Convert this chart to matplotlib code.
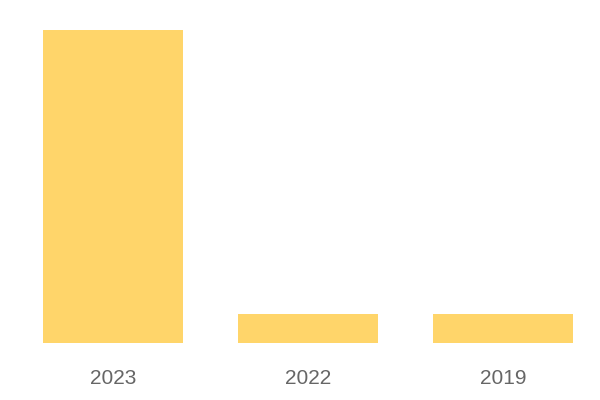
import matplotlib
matplotlib.use('Agg')
import matplotlib.pyplot as plt

years = ['2023', '2022', '2019']
values = [11, 1.02, 1.02]

fig = plt.figure(figsize=(6, 4), dpi=100)
ax = fig.add_axes([15.5 / 600, 57 / 400, 585 / 600, 313 / 400])
ax.bar(range(len(years)), values, width=140 / 195, color='#FFD56A')
ax.set_xlim(-0.5, 2.5)
ax.set_ylim(0, 11)
for s in ax.spines.values():
    s.set_visible(False)
ax.set_yticks([])
ax.set_xticks(range(len(years)))
ax.set_xticklabels(years, fontsize=15, color='#666666', family='Liberation Sans')
ax.tick_params(axis='x', length=0, pad=19)
fig.savefig('out.png', dpi=100)
